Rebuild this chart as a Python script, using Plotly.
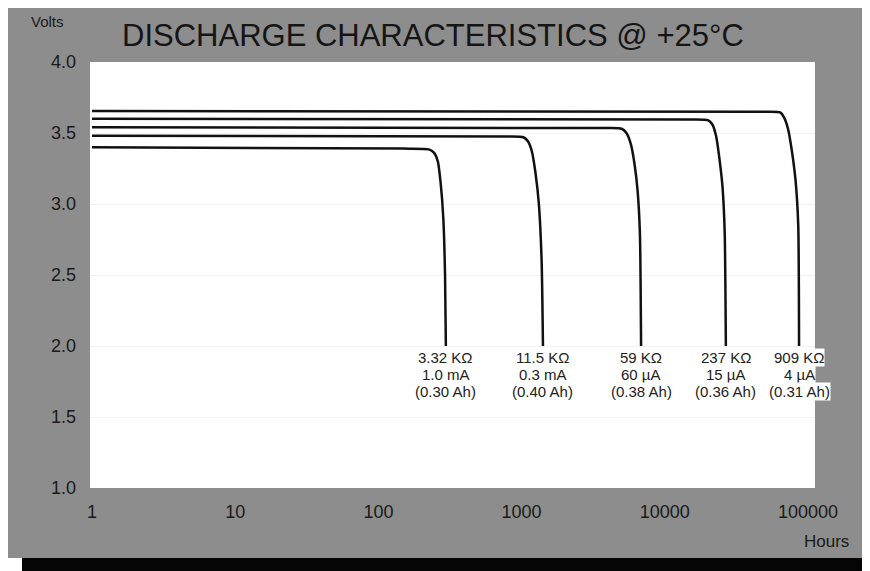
import numpy as np
import plotly.graph_objects as go

# discharge curves (hours, volts)
hours_332k = [1, 150, 225, 245, 260, 272, 284, 292, 296]
volts_332k = [3.40, 3.39, 3.385, 3.36, 3.30, 3.15, 2.90, 2.50, 2.0]

hours_115k = [1, 800, 1030, 1110, 1180, 1250, 1320, 1380, 1410]
volts_115k = [3.48, 3.475, 3.47, 3.44, 3.37, 3.22, 3.00, 2.60, 2.0]

hours_59k = [1, 4000, 5000, 5400, 5800, 6150, 6450, 6700, 6830]
volts_59k = [3.54, 3.535, 3.53, 3.50, 3.42, 3.28, 3.10, 2.80, 2.0]

hours_237k = [1, 15000, 20000, 21500, 22800, 24000, 25300, 26200, 26700]
volts_237k = [3.60, 3.595, 3.59, 3.56, 3.48, 3.33, 3.12, 2.80, 2.0]

hours_909k = [1, 50000, 64000, 68000, 72500, 77000, 82000, 85500, 86600]
volts_909k = [3.655, 3.65, 3.645, 3.61, 3.53, 3.38, 3.16, 2.85, 2.0]

resistances = ['3.32 KΩ', '11.5 KΩ', '59 KΩ', '237 KΩ', '909 KΩ']
currents = ['1.0 mA', '0.3 mA', '60 µA', '15 µA', '4 µA']
capacities = ['(0.30 Ah)', '(0.40 Ah)', '(0.38 Ah)', '(0.36 Ah)', '(0.31 Ah)']

x_ticks = [1, 10, 100, 1000, 10000, 100000]
x_ticktext = ['1', '10', '100', '1000', '10000', '100000']
y_ticks = [1.0, 1.5, 2.0, 2.5, 3.0, 3.5, 4.0]

# page has an 8px body margin, so work in reference pixels minus OFF
OFF = 8
W, H = 870 - OFF, 571 - OFF
L, T = 90 - OFF, 62 - OFF
PW, PH = 725, 426
R, B = W - L - PW, H - T - PH


def px(x):  # reference pixel -> paper x
    return (x - OFF - L) / PW


def py(y):  # reference pixel -> paper y
    return (T + PH - (y - OFF)) / PH


fig = go.Figure()
curves = [(hours_332k, volts_332k), (hours_115k, volts_115k), (hours_59k, volts_59k),
          (hours_237k, volts_237k), (hours_909k, volts_909k)]
lab_font = dict(family='Liberation Sans', size=15, color='#222222')
for i, (h, v) in enumerate(curves):
    fig.add_trace(go.Scatter(x=h, y=v, mode='lines', showlegend=False,
                             line=dict(color='#111111', width=2.5, shape='spline', smoothing=0.6)))
    for txt, yy in zip([resistances[i], currents[i], capacities[i]], [357, 374, 391]):
        fig.add_annotation(x=np.log10(h[-1]), y=py(yy), xref='x', yref='paper', text=txt,
                           showarrow=False, yanchor='middle', xanchor='center',
                           bgcolor='white', borderpad=0, font=lab_font)

fig.add_annotation(x=px(47), y=py(22), xref='paper', yref='paper', text='Volts', showarrow=False,
                   xanchor='center', yanchor='middle',
                   font=dict(family='Liberation Sans', size=15, color='#1a1a1a'))
fig.add_annotation(x=px(826), y=py(541), xref='paper', yref='paper', text='Hours', showarrow=False,
                   xanchor='center', yanchor='middle',
                   font=dict(family='Liberation Sans', size=17, color='#1a1a1a'))

# card, shadow and white plot area
fig.add_shape(type='rect', xref='paper', yref='paper', x0=px(22), x1=px(880), y0=py(580), y1=py(30),
              fillcolor='#050505', line_width=0, layer='below')
fig.add_shape(type='rect', xref='paper', yref='paper', x0=px(-10), x1=px(862), y0=py(558), y1=py(-10),
              fillcolor='#8d8d8d', line_width=0, layer='below')
fig.add_shape(type='rect', xref='paper', yref='paper', x0=0, x1=1, y0=0, y1=1,
              fillcolor='white', line_width=0, layer='below')

fig.update_layout(
    width=W, height=H,
    margin=dict(l=L, r=R, t=T, b=B),
    paper_bgcolor='white', plot_bgcolor='white',
    title=dict(text='DISCHARGE CHARACTERISTICS @ +25°C', xref='container', yref='container',
               x=(122 - OFF) / W, xanchor='left', y=1 - (35 - OFF) / H, yanchor='middle',
               font=dict(family='Liberation Sans', size=31, color='#151515')),
    font=dict(family='Liberation Sans', color='#1a1a1a'),
)
fig.update_xaxes(type='log', range=[-0.014, 5.049], tickvals=x_ticks, ticktext=x_ticktext,
                 showgrid=False, zeroline=False, showline=False, ticks='',
                 ticklabelstandoff=11, tickfont=dict(size=18))
fig.update_yaxes(range=[1, 4], tickvals=y_ticks, tickformat='.1f', showgrid=True,
                 gridcolor='#f3f3f3', zeroline=False, showline=False, ticks='',
                 ticklabelstandoff=13, tickfont=dict(size=18))

fig.write_html('out.html')
